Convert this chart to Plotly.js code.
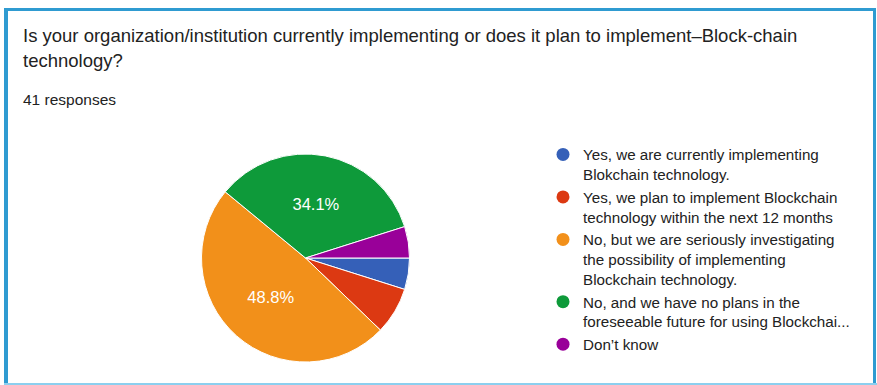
<!DOCTYPE html>
<html>
<head>
<meta charset="utf-8">
<script src="https://cdn.plot.ly/plotly-3.0.1.min.js"></script>
<style>
html,body{margin:0;padding:0;background:#fff;}
#chart{width:877px;height:385px;}
</style>
</head>
<body>
<div id="chart"></div>
<script>
// ---- data ----
const categories = [
  "Yes, we are currently implementing<br>Blokchain technology.",
  "Yes, we plan to implement Blockchain<br>technology within the next 12 months",
  "No, but we are seriously investigating<br>the possibility of implementing<br>Blockchain technology.",
  "No, and we have no plans in the<br>foreseeable future for using Blockchai...",
  "Don’t know"
];
const counts = [2, 3, 20, 14, 2];
const sliceLabels = ["", "", "%{percent}", "%{percent}", ""];
const colors = ["#3560b8", "#dc3912", "#f2901a", "#0e9a3a", "#990099"];
const titleLine1 = "Is your organization/institution currently implementing or does it plan to implement–Block-chain";
const titleLine2 = "technology?";
const subtitle = "41 responses";

// ---- layout helpers (pixels -> paper) ----
const W = 877, H = 385;
const px = x => x / W;
const py = y => 1 - y / H;

const traces = [{
  type: "pie",
  labels: categories,
  values: counts,
  sort: false,
  direction: "clockwise",
  rotation: 90,
  marker: {colors: colors, line: {color: "#ffffff", width: 1}},
  texttemplate: sliceLabels,
  textposition: "inside",
  insidetextorientation: "horizontal",
  textfont: {color: "#ffffff", size: 16.5, family: "Liberation Sans, Arial, sans-serif"},
  hoverinfo: "none",
  showlegend: false,
  domain: {x: [px(201), px(410)], y: [py(362), py(154)]}
}];
categories.forEach((c, i) => {
  traces.push({
    type: "scatter", mode: "markers", x: [null], y: [null],
    name: c, marker: {color: colors[i], size: 13, symbol: "circle"},
    hoverinfo: "none", showlegend: true
  });
});

const lineC = "#2f9bd1";
const layout = {
  width: W, height: H,
  margin: {l: 0, r: 0, t: 0, b: 0},
  paper_bgcolor: "#ffffff",
  plot_bgcolor: "rgba(0,0,0,0)",
  font: {family: "Liberation Sans, Arial, sans-serif", color: "#222222"},
  xaxis: {visible: false}, yaxis: {visible: false},
  showlegend: true,
  legend: {
    x: px(543), y: py(138), xanchor: "left", yanchor: "top",
    font: {size: 15.2, color: "#222222"}, valign: "top",
    bgcolor: "rgba(0,0,0,0)", traceorder: "normal", itemclick: false
  },
  annotations: [
    {text: titleLine1, xref: "paper", yref: "paper", x: px(21), y: py(35), xanchor: "left", yanchor: "middle", showarrow: false, font: {size: 18.5, color: "#222222"}},
    {text: titleLine2, xref: "paper", yref: "paper", x: px(21), y: py(60), xanchor: "left", yanchor: "middle", showarrow: false, font: {size: 18.5, color: "#222222"}},
    {text: subtitle, xref: "paper", yref: "paper", x: px(21), y: py(100), xanchor: "left", yanchor: "middle", showarrow: false, font: {size: 15.5, color: "#222222"}}
  ],
  shapes: [
    {type: "line", xref: "paper", yref: "paper", x0: px(4), x1: px(876), y0: py(9.5), y1: py(9.5), line: {color: lineC, width: 3}},
    {type: "line", xref: "paper", yref: "paper", x0: px(6), x1: px(6), y0: py(8), y1: py(385), line: {color: lineC, width: 4}},
    {type: "line", xref: "paper", yref: "paper", x0: px(874.5), x1: px(874.5), y0: py(8), y1: py(385), line: {color: lineC, width: 3}},
    {type: "line", xref: "paper", yref: "paper", x0: px(4), x1: px(877), y0: py(384), y1: py(384), line: {color: "#8ccfef", width: 2}}
  ]
};

Plotly.newPlot("chart", traces, layout, {displayModeBar: false, staticPlot: true});
</script>
</body>
</html>
